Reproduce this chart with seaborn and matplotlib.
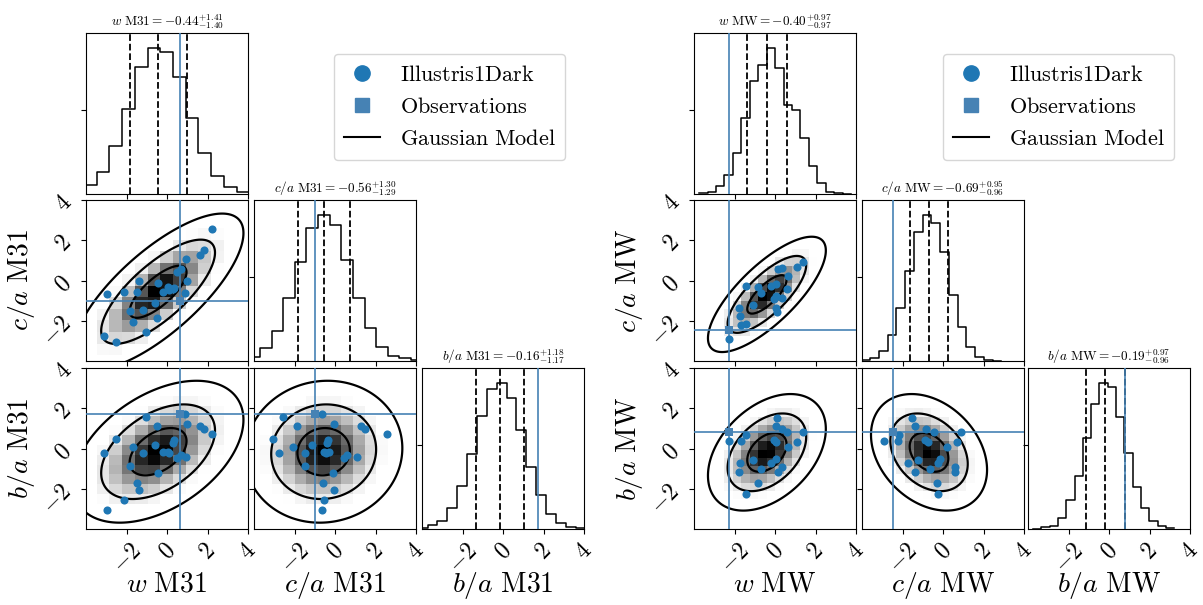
import numpy as np
import matplotlib
matplotlib.use("Agg")
import matplotlib.pyplot as plt
import seaborn as sns
from matplotlib.colors import LinearSegmentedColormap
from matplotlib.lines import Line2D

plt.rcParams['mathtext.fontset'] = 'cm'
plt.rcParams['font.family'] = ['DejaVu Serif']

# ---------------- data ----------------
var_names = ['w', 'c/a', 'b/a']

# M31
m31_median = [-0.44, -0.56, -0.16]
m31_err_plus = [1.41, 1.30, 1.18]
m31_err_minus = [1.40, 1.29, 1.17]
m31_corr_wc, m31_corr_wb, m31_corr_cb = 0.75, 0.45, 0.05
m31_obs = [0.65, -1.00, 1.72]
m31_hist_start = [-4.10, -4.28, -4.21]
m31_hist_width = [0.628, 0.574, 0.487]
m31_hist_w = [26, 67, 144, 252, 377, 436, 423, 348, 225, 121, 55, 20, 6]
m31_hist_c = [13, 38, 91, 188, 297, 398, 438, 408, 303, 190, 98, 43, 16, 8, 3]
m31_hist_b = [2, 12, 25, 63, 130, 223, 337, 418, 438, 392, 295, 185, 102, 45, 18, 7, 2]
m31_sim_w = [0.87, -1.03, 1.00, -0.47, 1.62, 1.82, 2.20, -2.53, -0.60, -1.70, -3.13, -1.20, 0.50,
             0.67, 0.92, -1.83, -0.45, -1.48, -1.37, -2.13, -2.95, 0.37, 0.30, -0.20, 0.03, 0.10]
m31_sim_c = [-0.63, -2.55, -0.03, -1.87, 1.28, 1.50, 2.58, -3.05, -1.12, -2.07, -2.75, -1.46, 0.42,
             0.58, 1.07, -1.50, -0.10, -0.58, -0.03, -0.55, -0.65, -0.35, -0.40, -0.55, -0.30, -0.45]
m31_sim_b = [1.72, 1.57, 1.23, 1.10, 1.10, 0.95, 0.70, 0.48, 0.18, 0.06, -0.23, -0.23, -0.45,
             -0.30, -0.40, -0.88, -1.22, -1.72, -2.07, -2.55, -3.07, 0.42, 0.25, -0.15, -0.15, -0.20]

# MW
mw_median = [-0.40, -0.69, -0.19]
mw_err_plus = [0.97, 0.95, 0.97]
mw_err_minus = [0.97, 0.96, 0.96]
mw_corr_wc, mw_corr_wb, mw_corr_cb = 0.76, 0.40, -0.30
mw_obs = [-2.28, -2.48, 0.80]
mw_hist_start = [-3.75, -4.03, -3.75]
mw_hist_width = [0.417, 0.432, 0.410]
mw_hist_w = [2, 6, 23, 58, 123, 226, 336, 383, 436, 375, 265, 250, 166, 83, 33, 6, 2, 1]
mw_hist_c = [4, 9, 29, 77, 159, 267, 382, 435, 409, 325, 197, 102, 42, 12, 4, 1]
mw_hist_b = [1, 5, 10, 33, 85, 158, 271, 371, 436, 423, 335, 226, 126, 63, 23, 8, 3]
mw_sim_w = [0.08, 0.03, 0.37, 0.60, 1.38, -1.42, -1.67, -2.25, -0.05, 0.05, 1.08, 0.62, -1.10,
            0.03, -1.75, -1.77, -0.70, 0.15, 0.37, -0.20, -0.85, -1.45]
mw_sim_c = [-1.55, -1.38, -0.86, -0.43, 0.90, -2.18, -2.22, -2.93, -0.90, -0.75, 0.68, 0.22, -1.22,
            -0.15, -1.75, -1.38, -0.62, 0.57, 0.60, -0.25, -0.30, -0.27]
mw_sim_b = [1.53, 1.10, 0.97, 0.82, 0.83, 0.68, 0.38, 0.38, 0.43, 0.30, 0.30, 0.05, -0.57,
            -0.50, -0.73, -1.17, -1.02, -1.15, -0.90, -0.70, -1.73, -2.25]

tick_values = [-2, 0, 2, 4]
tick_labels = [r'$-2$', r'$0$', r'$2$', r'$4$']
legend_labels = [r'$\mathrm{Illustris1Dark}$', r'$\mathrm{Observations}$', r'$\mathrm{Gaussian\ Model}$']

# ---------------- style ----------------
SIM_COLOR = '#1f77b4'
OBS_COLOR = '#4682b4'
dens_cmap = LinearSegmentedColormap.from_list('wb', [(0.0, 'white'), (0.06, 'white'), (1.0, 'black')])

W, H = 1203, 605
fig = plt.figure(figsize=(W / 100, H / 100), dpi=100)


def rect(xp, yp, wp=162, hp=161):
    return [xp / W, 1 - (yp + hp) / H, wp / W, hp / H]


def gauss_rel(X, Y, mx, my, sx, sy, rho):
    dx = (X - mx) / sx
    dy = (Y - my) / sy
    q = (dx ** 2 - 2 * rho * dx * dy + dy ** 2) / (1 - rho ** 2)
    return np.exp(-0.5 * q)


def draw_corner(name, median, ep, em, corr, obs, hstart, hwidth, hcounts, sims, cols, rows):
    sig = [(a + b) / 2 for a, b in zip(ep, em)]
    edges = [s + w * np.arange(len(c) + 1) for s, w, c in zip(hstart, hwidth, hcounts)]
    for i in range(3):
        for j in range(i + 1):
            ax = fig.add_axes(rect(cols[j], rows[i]))
            if i == j:
                cnt = np.asarray(hcounts[i], float)
                centers = 0.5 * (edges[i][:-1] + edges[i][1:])
                sns.histplot(x=list(centers), weights=list(cnt), bins=list(edges[i]), element='step',
                             fill=False, color='k', linewidth=1.1, ax=ax)
                for q in (median[i] - em[i], median[i], median[i] + ep[i]):
                    ax.axvline(q, color='k', ls='--', lw=1.3, zorder=4)
                ax.axvline(obs[i], color=OBS_COLOR, lw=1.2, zorder=5)
                ax.set_ylim(0, 1.1 * cnt.max())
                ax.set_yticks([0.576 * cnt.max()])
                ax.set_yticklabels([])
                lab = var_names[i]
                ax.set_title(r'$%s\ \mathrm{%s} = %.2f^{+%.2f}_{-%.2f}$' % (lab, name, median[i], ep[i], em[i]),
                             fontsize=9.5, pad=5)
                ax.set_ylabel('')
            else:
                xe, ye = edges[j], edges[i]
                xc = 0.5 * (xe[:-1] + xe[1:])
                yc = 0.5 * (ye[:-1] + ye[1:])
                XC, YC = np.meshgrid(xc, yc, indexing='ij')
                rho = corr[(j, i)]
                Wt = gauss_rel(XC, YC, median[j], median[i], sig[j], sig[i], rho)
                sns.histplot(x=list(XC.ravel()), y=list(YC.ravel()), weights=list(Wt.ravel()),
                             bins=[list(xe), list(ye)], cmap=dens_cmap, vmin=0, ax=ax, zorder=1)
                gx = np.linspace(-4.6, 4.6, 300)
                GX, GY = np.meshgrid(gx, gx)
                Z = gauss_rel(GX, GY, median[j], median[i], sig[j], sig[i], rho)
                ax.contour(GX, GY, Z, levels=[np.exp(-4.5), np.exp(-2.0), np.exp(-0.5)],
                           colors='k', linewidths=1.6, zorder=3)
                sns.scatterplot(x=sims[j], y=sims[i], color=SIM_COLOR, s=34, linewidth=0,
                                ax=ax, zorder=6)
                ax.axvline(obs[j], color=OBS_COLOR, lw=1.2, zorder=5)
                ax.axhline(obs[i], color=OBS_COLOR, lw=1.2, zorder=5)
                ax.scatter([obs[j]], [obs[i]], marker='s', color=OBS_COLOR, s=40, zorder=7,
                           linewidths=0)
                ax.set_ylim(-4, 4)
                ax.set_yticks(tick_values)
                if j == 0:
                    ax.set_yticklabels(tick_labels, rotation=45, fontsize=17)
                    ax.set_ylabel(r'$%s\ \mathrm{%s}$' % (var_names[i], name), fontsize=20)
                    ax.yaxis.set_label_coords(-0.3, 0.5)
                else:
                    ax.set_yticklabels([])
                    ax.set_ylabel('')
            ax.set_xlim(-4, 4)
            ax.set_xticks(tick_values)
            if i == 2:
                ax.set_xticklabels(tick_labels, rotation=45, fontsize=17)
                ax.set_xlabel(r'$%s\ \mathrm{%s}$' % (var_names[j], name), fontsize=20)
                ax.xaxis.set_label_coords(0.5, -0.255)
            else:
                ax.set_xticklabels([])
                ax.set_xlabel('')


rows_px = [33, 200, 368]
draw_corner('M31', m31_median, m31_err_plus, m31_err_minus,
            {(0, 1): m31_corr_wc, (0, 2): m31_corr_wb, (1, 2): m31_corr_cb}, m31_obs,
            m31_hist_start, m31_hist_width, [m31_hist_w, m31_hist_c, m31_hist_b],
            [m31_sim_w, m31_sim_c, m31_sim_b], [86, 254, 422], rows_px)
draw_corner('MW', mw_median, mw_err_plus, mw_err_minus,
            {(0, 1): mw_corr_wc, (0, 2): mw_corr_wb, (1, 2): mw_corr_cb}, mw_obs,
            mw_hist_start, mw_hist_width, [mw_hist_w, mw_hist_c, mw_hist_b],
            [mw_sim_w, mw_sim_c, mw_sim_b], [694, 862, 1028], rows_px)

handles = [Line2D([], [], ls='none', marker='o', color=SIM_COLOR, markersize=11),
           Line2D([], [], ls='none', marker='s', color=OBS_COLOR, markersize=10),
           Line2D([], [], color='k', lw=1.5)]
for lx in (334, 943):
    fig.legend(handles, legend_labels, loc='upper left', bbox_to_anchor=(lx / W, 1 - 54 / H),
               borderaxespad=0.0, fontsize=16, frameon=True, borderpad=0.45, labelspacing=0.45,
               handlelength=1.6, handletextpad=0.9)

fig.savefig('out.png', dpi=100)
